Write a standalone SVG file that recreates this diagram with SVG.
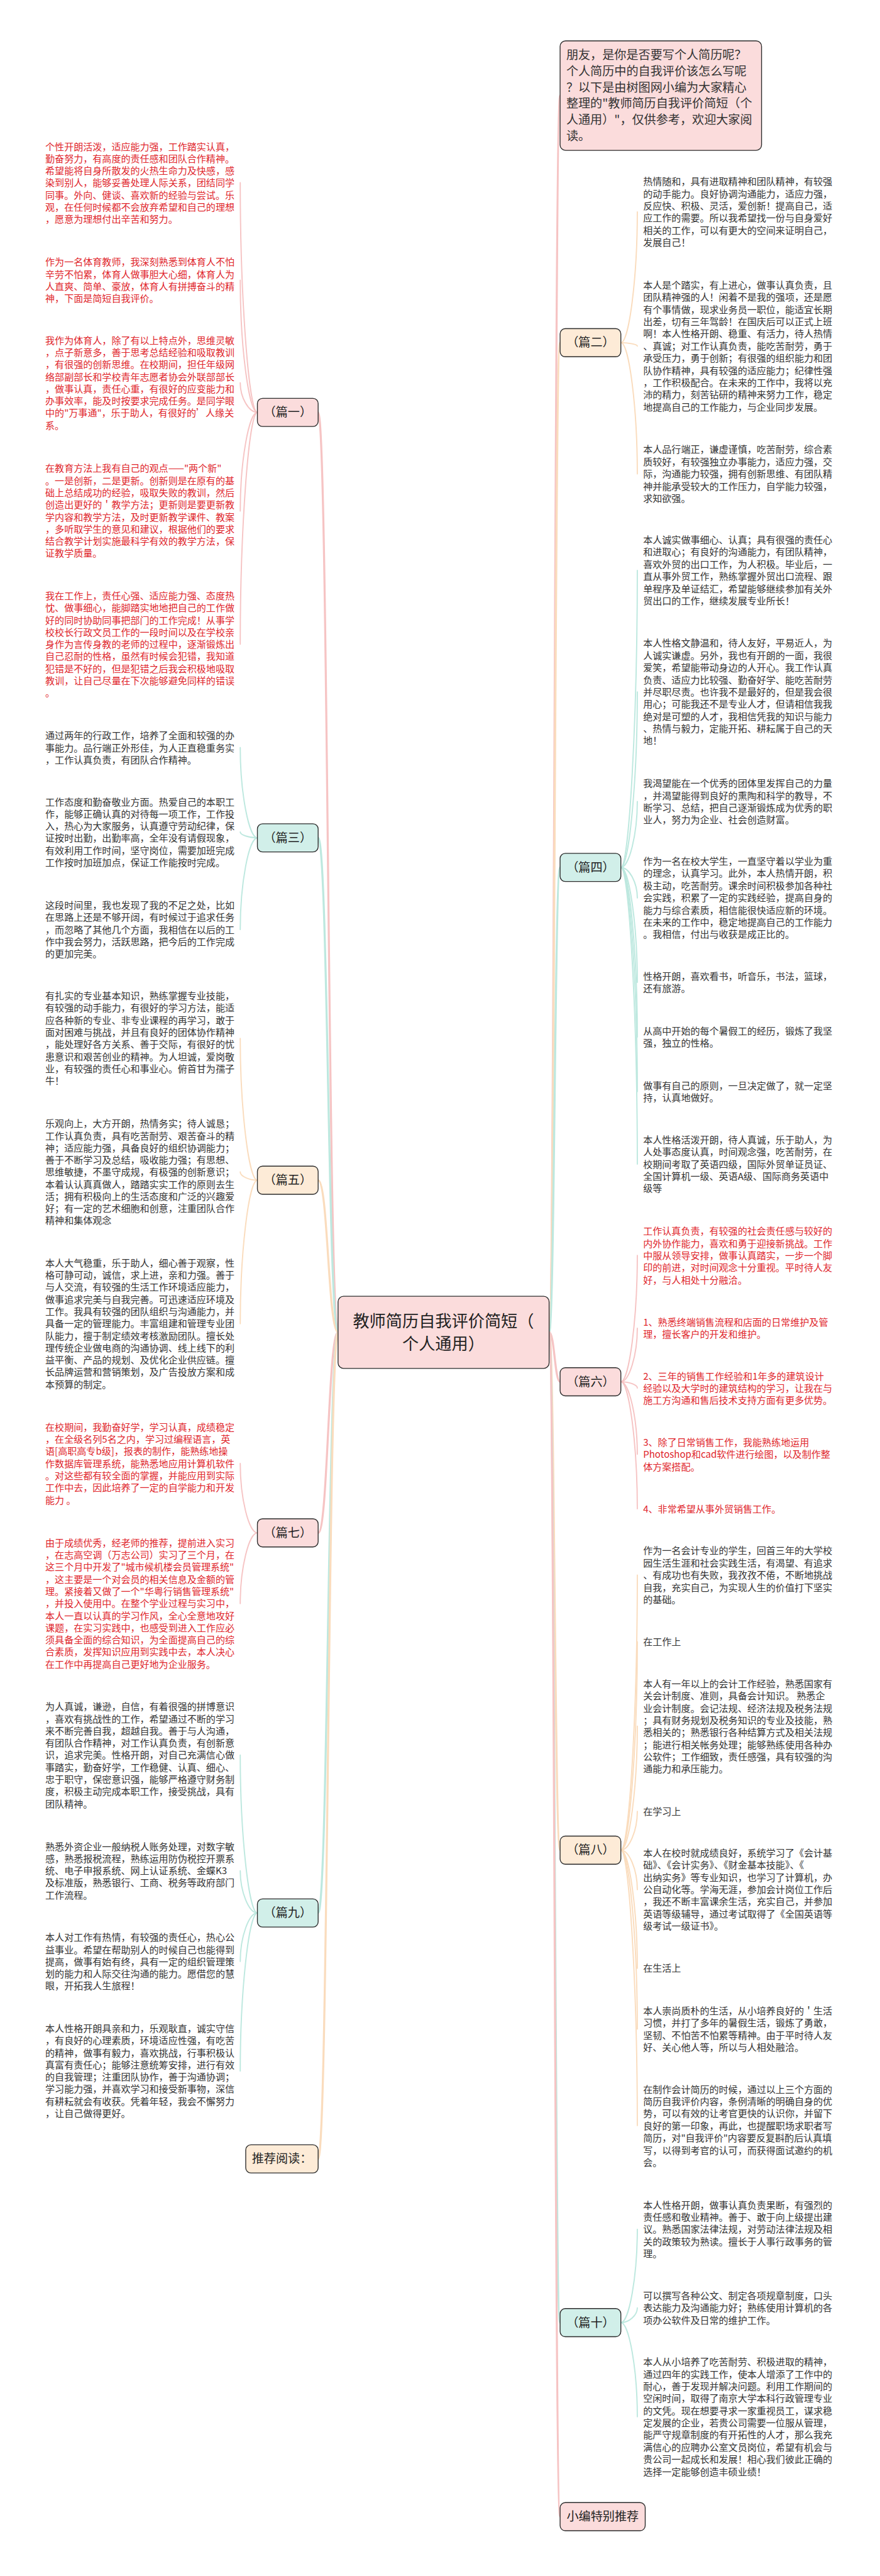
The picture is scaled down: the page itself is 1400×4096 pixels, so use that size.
<svg xmlns="http://www.w3.org/2000/svg" width="1400" height="4096" viewBox="0 0 1400 4096">
<style>
.t{font-family:"Noto Sans CJK SC","Noto Sans",sans-serif;font-size:27.6px}
.r{fill:#e0252b}
.g{fill:#333}
.lb{font-family:"Noto Sans CJK SC","Noto Sans",sans-serif;font-size:35px;fill:#222;text-anchor:middle}
.nb{stroke:#2b2b2b;stroke-width:2.5}
.pk{fill:#fbdcdc}.pc{fill:#fdebd7}.tl{fill:#d1efe9}
.lpk{stroke:#f6c4c4}.lpc{stroke:#fadcbd}.ltl{stroke:#bde8df}
.c1{fill:none;stroke-width:6;stroke-linecap:round}
.c2{fill:none;stroke-width:3.5;stroke-linecap:round}
</style>
<rect width="1400" height="4096" fill="#fff"/>
<g transform="scale(0.546)">
<g id="connectors">
<path class="c1 lpk" d="M1600,3880 C1616,3880 1616,278 1632,278"/>
<path class="c1 lpc" d="M1600,3880 C1616,3880 1616,998 1632,998"/>
<path class="c1 ltl" d="M1600,3880 C1616,3880 1616,2526 1632,2526"/>
<path class="c1 lpk" d="M1600,3880 C1616,3880 1616,4024 1632,4024"/>
<path class="c1 lpc" d="M1600,3880 C1616,3880 1616,5388 1632,5388"/>
<path class="c1 ltl" d="M1600,3880 C1616,3880 1616,6764 1632,6764"/>
<path class="c1 lpk" d="M1600,3880 C1616,3880 1616,7329 1632,7329"/>
<path class="c1 lpk" d="M985,3880 C956,3880 956,1201 927,1201"/>
<path class="c1 ltl" d="M985,3880 C956,3880 956,2440 927,2440"/>
<path class="c1 lpc" d="M985,3880 C956,3880 956,3437 927,3437"/>
<path class="c1 lpk" d="M985,3880 C956,3880 956,4464 927,4464"/>
<path class="c1 ltl" d="M985,3880 C956,3880 956,5571 927,5571"/>
<path class="c1 lpc" d="M985,3880 C956,3880 956,6287 927,6287"/>
<path class="c2 lpk" d="M750,1201 C725,1201 700,866 700,532"/>
<path class="c2 lpk" d="M750,1201 C725,1201 700,1008 700,816"/>
<path class="c2 lpk" d="M750,1201 C725,1201 700,1158 700,1115"/>
<path class="c2 lpk" d="M750,1201 C725,1201 700,1344 700,1488"/>
<path class="c2 lpk" d="M750,1201 C725,1201 700,1538 700,1876"/>
<path class="c2 ltl" d="M750,2440 C725,2440 700,2308 700,2177"/>
<path class="c2 ltl" d="M750,2440 C725,2440 700,2431 700,2423"/>
<path class="c2 ltl" d="M750,2440 C725,2440 700,2573 700,2707"/>
<path class="c2 lpc" d="M750,3437 C725,3437 700,3230 700,3024"/>
<path class="c2 lpc" d="M750,3437 C725,3437 700,3425 700,3413"/>
<path class="c2 lpc" d="M750,3437 C725,3437 700,3646 700,3855"/>
<path class="c2 lpk" d="M750,4464 C725,4464 700,4363 700,4262"/>
<path class="c2 lpk" d="M750,4464 C725,4464 700,4567 700,4670"/>
<path class="c2 ltl" d="M750,5571 C725,5571 700,5341 700,5111"/>
<path class="c2 ltl" d="M750,5571 C725,5571 700,5509 700,5448"/>
<path class="c2 ltl" d="M750,5571 C725,5571 700,5641 700,5712"/>
<path class="c2 ltl" d="M750,5571 C725,5571 700,5801 700,6031"/>
<path class="c2 lpc" d="M1809,998 C1833,998 1857,807 1857,617"/>
<path class="c2 lpc" d="M1809,998 C1833,998 1857,1003 1857,1008"/>
<path class="c2 lpc" d="M1809,998 C1833,998 1857,1189 1857,1380"/>
<path class="c2 ltl" d="M1809,2526 C1833,2526 1857,2093 1857,1661"/>
<path class="c2 ltl" d="M1809,2526 C1833,2526 1857,2270 1857,2015"/>
<path class="c2 ltl" d="M1809,2526 C1833,2526 1857,2430 1857,2334"/>
<path class="c2 ltl" d="M1809,2526 C1833,2526 1857,2570 1857,2615"/>
<path class="c2 ltl" d="M1809,2526 C1833,2526 1857,2693 1857,2861"/>
<path class="c2 ltl" d="M1809,2526 C1833,2526 1857,2773 1857,3020"/>
<path class="c2 ltl" d="M1809,2526 C1833,2526 1857,2852 1857,3179"/>
<path class="c2 ltl" d="M1809,2526 C1833,2526 1857,2958 1857,3390"/>
<path class="c2 lpk" d="M1809,4024 C1833,4024 1857,3840 1857,3656"/>
<path class="c2 lpk" d="M1809,4024 C1833,4024 1857,3946 1857,3868"/>
<path class="c2 lpk" d="M1809,4024 C1833,4024 1857,4033 1857,4042"/>
<path class="c2 lpk" d="M1809,4024 C1833,4024 1857,4129 1857,4235"/>
<path class="c2 lpk" d="M1809,4024 C1833,4024 1857,4209 1857,4394"/>
<path class="c2 lpc" d="M1809,5388 C1833,5388 1857,4987 1857,4587"/>
<path class="c2 lpc" d="M1809,5388 C1833,5388 1857,5084 1857,4781"/>
<path class="c2 lpc" d="M1809,5388 C1833,5388 1857,5207 1857,5027"/>
<path class="c2 lpc" d="M1809,5388 C1833,5388 1857,5331 1857,5275"/>
<path class="c2 lpc" d="M1809,5388 C1833,5388 1857,5445 1857,5503"/>
<path class="c2 lpc" d="M1809,5388 C1833,5388 1857,5560 1857,5732"/>
<path class="c2 lpc" d="M1809,5388 C1833,5388 1857,5648 1857,5909"/>
<path class="c2 lpc" d="M1809,5388 C1833,5388 1857,5789 1857,6190"/>
<path class="c2 ltl" d="M1809,6764 C1833,6764 1857,6628 1857,6492"/>
<path class="c2 ltl" d="M1809,6764 C1833,6764 1857,6742 1857,6721"/>
<path class="c2 ltl" d="M1809,6764 C1833,6764 1857,6901 1857,7038"/>
</g>

<g id="center">
<rect x="985" y="3775" width="615" height="210" rx="16" class="pk nb"/>
<text class="lb" style="font-size:48px" x="1292" y="3865">教师简历自我评价简短（</text>
<text class="lb" style="font-size:48px" x="1292" y="3930">个人通用）</text>
</g>

<g id="intro">
<rect x="1632" y="119" width="587" height="319" rx="16" class="pk nb"/>
<text class="t g" style="font-size:35px" x="1650" y="172"><tspan x="1650">朋友，是你是否要写个人简历呢？</tspan><tspan x="1650" dy="47.3">个人简历中的自我评价该怎么写呢</tspan><tspan x="1650" dy="47.3">？以下是由树图网小编为大家精心</tspan><tspan x="1650" dy="47.3">整理的"教师简历自我评价简短（个</tspan><tspan x="1650" dy="47.3">人通用）"，仅供参考，欢迎大家阅</tspan><tspan x="1650" dy="47.3">读。</tspan></text>
</g>

<g id="p1"><rect x="750" y="1160" width="177" height="82" rx="15" class="pk nb"/><text class="lb" x="838.5" y="1213">（篇一）</text></g>
<g id="p3"><rect x="750" y="2399" width="177" height="82" rx="15" class="tl nb"/><text class="lb" x="838.5" y="2452">（篇三）</text></g>
<g id="p5"><rect x="750" y="3396" width="177" height="82" rx="15" class="pc nb"/><text class="lb" x="838.5" y="3449">（篇五）</text></g>
<g id="p7"><rect x="750" y="4423" width="177" height="82" rx="15" class="pk nb"/><text class="lb" x="838.5" y="4476">（篇七）</text></g>
<g id="p9"><rect x="750" y="5530" width="177" height="82" rx="15" class="tl nb"/><text class="lb" x="838.5" y="5583">（篇九）</text></g>
<g id="rec"><rect x="716" y="6246" width="211" height="82" rx="15" class="pc nb"/><text class="lb" x="821.5" y="6299">推荐阅读：</text></g>
<g id="p2"><rect x="1632" y="957" width="177" height="82" rx="15" class="pc nb"/><text class="lb" x="1720.5" y="1010">（篇二）</text></g>
<g id="p4"><rect x="1632" y="2485" width="177" height="82" rx="15" class="tl nb"/><text class="lb" x="1720.5" y="2538">（篇四）</text></g>
<g id="p6"><rect x="1632" y="3983" width="177" height="82" rx="15" class="pk nb"/><text class="lb" x="1720.5" y="4036">（篇六）</text></g>
<g id="p8"><rect x="1632" y="5347" width="177" height="82" rx="15" class="pc nb"/><text class="lb" x="1720.5" y="5400">（篇八）</text></g>
<g id="p10"><rect x="1632" y="6723" width="177" height="82" rx="15" class="tl nb"/><text class="lb" x="1720.5" y="6776">（篇十）</text></g>
<g id="editor"><rect x="1632" y="7288" width="248" height="82" rx="15" class="pk nb"/><text class="lb" x="1756" y="7341">小编特别推荐</text></g>

<g id="p1-1"><text class="t r" x="132" y="437"><tspan x="132">个性开朗活泼，适应能力强，工作踏实认真，</tspan><tspan x="132" dy="35.3">勤奋努力，有高度的责任感和团队合作精神。</tspan><tspan x="132" dy="35.3">希望能将自身所散发的火热生命力及快感，感</tspan><tspan x="132" dy="35.3">染到别人，能够妥善处理人际关系，团结同学</tspan><tspan x="132" dy="35.3">同事。外向、健谈、喜欢新的经验与尝试。乐</tspan><tspan x="132" dy="35.3">观，在任何时候都不会放弃希望和自己的理想</tspan><tspan x="132" dy="35.3">，愿意为理想付出辛苦和努力。</tspan></text></g>
<g id="p1-2"><text class="t r" x="132" y="773.5"><tspan x="132">作为一名体育教师，我深刻熟悉到体育人不怕</tspan><tspan x="132" dy="35.3">辛劳不怕累，体育人做事胆大心细，体育人为</tspan><tspan x="132" dy="35.3">人直爽、简单、豪放，体育人有拼搏奋斗的精</tspan><tspan x="132" dy="35.3">神，下面是简短自我评价。</tspan></text></g>
<g id="p1-3"><text class="t r" x="132" y="1001.5"><tspan x="132">我作为体育人，除了有以上特点外，思维灵敏</tspan><tspan x="132" dy="35.3">，点子新意多，善于思考总结经验和吸取教训</tspan><tspan x="132" dy="35.3">，有很强的创新思维。在校期间，担任年级网</tspan><tspan x="132" dy="35.3">络部副部长和学校青年志愿者协会外联部部长</tspan><tspan x="132" dy="35.3">，做事认真，责任心重，有很好的应变能力和</tspan><tspan x="132" dy="35.3">办事效率，能及时按要求完成任务。是同学眼</tspan><tspan x="132" dy="35.3">中的"万事通"，乐于助人，有很好的’人缘关</tspan><tspan x="132" dy="35.3">系。</tspan></text></g>
<g id="p1-4"><text class="t r" x="132" y="1374.5"><tspan x="132">在教育方法上我有自己的观点——"两个新"</tspan><tspan x="132" dy="35.3">。一是创新，二是更新。创新则是在原有的基</tspan><tspan x="132" dy="35.3">础上总结成功的经验，吸取失败的教训，然后</tspan><tspan x="132" dy="35.3">创造出更好的＇教学方法；更新则是要更新教</tspan><tspan x="132" dy="35.3">学内容和教学方法，及时更新教学课件、教案</tspan><tspan x="132" dy="35.3">，多听取学生的意见和建议，根据他们的要求</tspan><tspan x="132" dy="35.3">结合教学计划实施最科学有效的教学方法，保</tspan><tspan x="132" dy="35.3">证教学质量。</tspan></text></g>
<g id="p1-5"><text class="t r" x="132" y="1745.5"><tspan x="132">我在工作上，责任心强、适应能力强、态度热</tspan><tspan x="132" dy="35.3">忱、做事细心，能脚踏实地地把自己的工作做</tspan><tspan x="132" dy="35.3">好的同时协助同事把部门的工作完成！从事学</tspan><tspan x="132" dy="35.3">校校长行政文员工作的一段时间以及在学校亲</tspan><tspan x="132" dy="35.3">身作为言传身教的老师的过程中，逐渐锻炼出</tspan><tspan x="132" dy="35.3">自己忍耐的性格，虽然有时候会犯错，我知道</tspan><tspan x="132" dy="35.3">犯错是不好的，但是犯错之后我会积极地吸取</tspan><tspan x="132" dy="35.3">教训，让自己尽量在下次能够避免同样的错误</tspan><tspan x="132" dy="35.3">。</tspan></text></g>

<g id="p3-1"><text class="t g" x="132" y="2152.5"><tspan x="132">通过两年的行政工作，培养了全面和较强的办</tspan><tspan x="132" dy="35.3">事能力。品行端正外形佳，为人正直稳重务实</tspan><tspan x="132" dy="35.3">，工作认真负责，有团队合作精神。</tspan></text></g>
<g id="p3-2"><text class="t g" x="132" y="2345.5"><tspan x="132">工作态度和勤奋敬业方面。热爱自己的本职工</tspan><tspan x="132" dy="35.3">作，能够正确认真的对待每一项工作，工作投</tspan><tspan x="132" dy="35.3">入，热心为大家服务，认真遵守劳动纪律，保</tspan><tspan x="132" dy="35.3">证按时出勤，出勤率高，全年没有请假现象，</tspan><tspan x="132" dy="35.3">有效利用工作时间，坚守岗位，需要加班完成</tspan><tspan x="132" dy="35.3">工作按时加班加点，保证工作能按时完成。</tspan></text></g>
<g id="p3-3"><text class="t g" x="132" y="2646.5"><tspan x="132">这段时间里，我也发现了我的不足之处，比如</tspan><tspan x="132" dy="35.3">在思路上还是不够开阔，有时候过于追求任务</tspan><tspan x="132" dy="35.3">，而忽略了其他几个方面，我相信在以后的工</tspan><tspan x="132" dy="35.3">作中我会努力，活跃思路，把今后的工作完成</tspan><tspan x="132" dy="35.3">的更加完美。</tspan></text></g>

<g id="p5-1"><text class="t g" x="132" y="2910.5"><tspan x="132">有扎实的专业基本知识，熟练掌握专业技能，</tspan><tspan x="132" dy="35.3">有较强的动手能力，有很好的学习方法，能适</tspan><tspan x="132" dy="35.3">应各种新的专业、非专业课程的再学习，敢于</tspan><tspan x="132" dy="35.3">面对困难与挑战，并且有良好的团体协作精神</tspan><tspan x="132" dy="35.3">，能处理好各方关系、善于交际，有很好的忧</tspan><tspan x="132" dy="35.3">患意识和艰苦创业的精神。为人坦诚，爱岗敬</tspan><tspan x="132" dy="35.3">业，有较强的责任心和事业心。俯首甘为孺子</tspan><tspan x="132" dy="35.3">牛！</tspan></text></g>
<g id="p5-2"><text class="t g" x="132" y="3282.5"><tspan x="132">乐观向上，大方开朗，热情务实；待人诚恳；</tspan><tspan x="132" dy="35.3">工作认真负责，具有吃苦耐劳、艰苦奋斗的精</tspan><tspan x="132" dy="35.3">神；适应能力强，具备良好的组织协调能力；</tspan><tspan x="132" dy="35.3">善于不断学习及总结，吸收能力强；有思想、</tspan><tspan x="132" dy="35.3">思维敏捷，不墨守成规，有极强的创新意识；</tspan><tspan x="132" dy="35.3">本着认认真真做人，踏踏实实工作的原则去生</tspan><tspan x="132" dy="35.3">活；拥有积极向上的生活态度和广泛的兴趣爱</tspan><tspan x="132" dy="35.3">好；有一定的艺术细胞和创意，注重团队合作</tspan><tspan x="132" dy="35.3">精神和集体观念</tspan></text></g>
<g id="p5-3"><text class="t g" x="132" y="3688.5"><tspan x="132">本人大气稳重，乐于助人，细心善于观察，性</tspan><tspan x="132" dy="35.3">格可静可动，诚信，求上进，亲和力强。善于</tspan><tspan x="132" dy="35.3">与人交流，有较强的生活工作环境适应能力，</tspan><tspan x="132" dy="35.3">做事追求完美与自我完善。可迅速适应环境及</tspan><tspan x="132" dy="35.3">工作。我具有较强的团队组织与沟通能力，并</tspan><tspan x="132" dy="35.3">具备一定的管理能力。丰富组建和管理专业团</tspan><tspan x="132" dy="35.3">队能力，擅于制定绩效考核激励团队。擅长处</tspan><tspan x="132" dy="35.3">理传统企业做电商的沟通协调、线上线下的利</tspan><tspan x="132" dy="35.3">益平衡、产品的规划、及优化企业供应链。擅</tspan><tspan x="132" dy="35.3">长品牌运营和营销策划，及广告投放方案和成</tspan><tspan x="132" dy="35.3">本预算的制定。</tspan></text></g>

<g id="p7-1"><text class="t r" x="132" y="4166.5"><tspan x="132">在校期间，我勤奋好学，学习认真，成绩稳定</tspan><tspan x="132" dy="35.3">，在全级名列5名之内，学习过编程语言，英</tspan><tspan x="132" dy="35.3">语[高职高专b级]，报表的制作，能熟练地操</tspan><tspan x="132" dy="35.3">作数据库管理系统，能熟悉地应用计算机软件</tspan><tspan x="132" dy="35.3">。对这些都有较全面的掌握，并能应用到实际</tspan><tspan x="132" dy="35.3">工作中去，因此培养了一定的自学能力和开发</tspan><tspan x="132" dy="35.3">能力 。</tspan></text></g>
<g id="p7-2"><text class="t r" x="132" y="4503.5"><tspan x="132">由于成绩优秀，经老师的推荐，提前进入实习</tspan><tspan x="132" dy="35.3">，在志高空调（万志公司）实习了三个月，在</tspan><tspan x="132" dy="35.3">这三个月中开发了"城市候机楼会员管理系统"</tspan><tspan x="132" dy="35.3">，这主要是一个对会员的相关信息及金额的管</tspan><tspan x="132" dy="35.3">理。紧接着又做了一个"华粤行销售管理系统"</tspan><tspan x="132" dy="35.3">，并投入使用中。在整个学业过程与实习中，</tspan><tspan x="132" dy="35.3">本人一直以认真的学习作风，全心全意地攻好</tspan><tspan x="132" dy="35.3">课题，在实习实践中，也感受到进入工作应必</tspan><tspan x="132" dy="35.3">须具备全面的综合知识，为全面提高自己的综</tspan><tspan x="132" dy="35.3">合素质，发挥知识应用到实践中去，本人决心</tspan><tspan x="132" dy="35.3">在工作中再提高自己更好地为企业服务。</tspan></text></g>

<g id="p9-1"><text class="t g" x="132" y="4980.5"><tspan x="132">为人真诚，谦逊，自信，有着很强的拼博意识</tspan><tspan x="132" dy="35.3">，喜欢有挑战性的工作，希望通过不断的学习</tspan><tspan x="132" dy="35.3">来不断完善自我，超越自我。善于与人沟通，</tspan><tspan x="132" dy="35.3">有团队合作精神，对工作认真负责，有创新意</tspan><tspan x="132" dy="35.3">识，追求完美。性格开朗，对自己充满信心做</tspan><tspan x="132" dy="35.3">事踏实，勤奋好学，工作稳健、认真、细心、</tspan><tspan x="132" dy="35.3">忠于职守，保密意识强，能够严格遵守财务制</tspan><tspan x="132" dy="35.3">度，积极主动完成本职工作，接受挑战，具有</tspan><tspan x="132" dy="35.3">团队精神。</tspan></text></g>
<g id="p9-2"><text class="t g" x="132" y="5387.5"><tspan x="132">熟悉外资企业一般纳税人账务处理，对数字敏</tspan><tspan x="132" dy="35.3">感，熟悉报税流程，熟练运用防伪税控开票系</tspan><tspan x="132" dy="35.3">统、电子申报系统、网上认证系统、金蝶K3</tspan><tspan x="132" dy="35.3">及标准版，熟悉银行、工商、税务等政府部门</tspan><tspan x="132" dy="35.3">工作流程。</tspan></text></g>
<g id="p9-3"><text class="t g" x="132" y="5652.5"><tspan x="132">本人对工作有热情，有较强的责任心，热心公</tspan><tspan x="132" dy="35.3">益事业。希望在帮助别人的时候自己也能得到</tspan><tspan x="132" dy="35.3">提高，做事有始有终，具有一定的组织管理策</tspan><tspan x="132" dy="35.3">划的能力和人际交往沟通的能力。愿借您的慧</tspan><tspan x="132" dy="35.3">眼，开拓我人生旅程！</tspan></text></g>
<g id="p9-4"><text class="t g" x="132" y="5917.5"><tspan x="132">本人性格开朗具亲和力，乐观耿直，诚实守信</tspan><tspan x="132" dy="35.3">，有良好的心理素质，环境适应性强，有吃苦</tspan><tspan x="132" dy="35.3">的精神，做事有毅力，喜欢挑战，行事积极认</tspan><tspan x="132" dy="35.3">真富有责任心；能够注意统筹安排，进行有效</tspan><tspan x="132" dy="35.3">的自我管理；注重团队协作，善于沟通协调；</tspan><tspan x="132" dy="35.3">学习能力强，并喜欢学习和接受新事物，深信</tspan><tspan x="132" dy="35.3">有耕耘就会有收获。凭着年轻，我会不懈努力</tspan><tspan x="132" dy="35.3">，让自己做得更好。</tspan></text></g>

<g id="p2-1"><text class="t g" x="1874" y="539"><tspan x="1874">热情随和，具有进取精神和团队精神，有较强</tspan><tspan x="1874" dy="35.5">的动手能力。良好协调沟通能力，适应力强，</tspan><tspan x="1874" dy="35.5">反应快、积极、灵活，爱创新！提高自己，适</tspan><tspan x="1874" dy="35.5">应工作的需要。所以我希望找一份与自身爱好</tspan><tspan x="1874" dy="35.5">相关的工作，可以有更大的空间来证明自己，</tspan><tspan x="1874" dy="35.5">发展自己！</tspan></text></g>
<g id="p2-2"><text class="t g" x="1874" y="840.5"><tspan x="1874">本人是个踏实，有上进心，做事认真负责，且</tspan><tspan x="1874" dy="35.5">团队精神强的人！闲着不是我的强项，还是愿</tspan><tspan x="1874" dy="35.5">有个事情做，现求业务员一职位，能适宜长期</tspan><tspan x="1874" dy="35.5">出差，切有三年驾龄！在国庆后可以正式上班</tspan><tspan x="1874" dy="35.5">啊！本人性格开朗、稳重、有活力，待人热情</tspan><tspan x="1874" dy="35.5">、真诚；对工作认真负责，能吃苦耐劳，勇于</tspan><tspan x="1874" dy="35.5">承受压力，勇于创新；有很强的组织能力和团</tspan><tspan x="1874" dy="35.5">队协作精神，具有较强的适应能力；纪律性强</tspan><tspan x="1874" dy="35.5">，工作积极配合。在未来的工作中，我将以充</tspan><tspan x="1874" dy="35.5">沛的精力，刻苦钻研的精神来努力工作，稳定</tspan><tspan x="1874" dy="35.5">地提高自己的工作能力，与企业同步发展。</tspan></text></g>
<g id="p2-3"><text class="t g" x="1874" y="1319.5"><tspan x="1874">本人品行端正，谦虚谨慎，吃苦耐劳，综合素</tspan><tspan x="1874" dy="35.5">质较好，有较强独立办事能力，适应力强，交</tspan><tspan x="1874" dy="35.5">际，沟通能力较强，拥有创新思维、有团队精</tspan><tspan x="1874" dy="35.5">神并能承受较大的工作压力，自学能力较强，</tspan><tspan x="1874" dy="35.5">求知欲强。</tspan></text></g>

<g id="p4-1"><text class="t g" x="1874" y="1582.5"><tspan x="1874">本人诚实做事细心、认真；具有很强的责任心</tspan><tspan x="1874" dy="35.5">和进取心；有良好的沟通能力，有团队精神，</tspan><tspan x="1874" dy="35.5">喜欢外贸的出口工作，为人积极。毕业后，一</tspan><tspan x="1874" dy="35.5">直从事外贸工作，熟练掌握外贸出口流程、跟</tspan><tspan x="1874" dy="35.5">单程序及单证结汇，希望能够继续参加有关外</tspan><tspan x="1874" dy="35.5">贸出口的工作，继续发展专业所长！</tspan></text></g>
<g id="p4-2"><text class="t g" x="1874" y="1883.5"><tspan x="1874">本人性格文静温和，待人友好，平易近人，为</tspan><tspan x="1874" dy="35.5">人诚实谦虚。另外，我也有开朗的一面，我很</tspan><tspan x="1874" dy="35.5">爱笑，希望能带动身边的人开心。我工作认真</tspan><tspan x="1874" dy="35.5">负责、适应力比较强、勤奋好学、能吃苦耐劳</tspan><tspan x="1874" dy="35.5">并尽职尽责。也许我不是最好的，但是我会很</tspan><tspan x="1874" dy="35.5">用心；可能我还不是专业人才，但请相信我我</tspan><tspan x="1874" dy="35.5">绝对是可塑的人才，我相信凭我的知识与能力</tspan><tspan x="1874" dy="35.5">、热情与毅力，定能开拓、耕耘属于自己的天</tspan><tspan x="1874" dy="35.5">地！</tspan></text></g>
<g id="p4-3"><text class="t g" x="1874" y="2291.5"><tspan x="1874">我渴望能在一个优秀的团体里发挥自己的力量</tspan><tspan x="1874" dy="35.5">，并渴望能得到良好的熏陶和科学的教导，不</tspan><tspan x="1874" dy="35.5">断学习、总结，把自己逐渐锻炼成为优秀的职</tspan><tspan x="1874" dy="35.5">业人，努力为企业、社会创造财富。</tspan></text></g>
<g id="p4-4"><text class="t g" x="1874" y="2518.5"><tspan x="1874">作为一名在校大学生，一直坚守着以学业为重</tspan><tspan x="1874" dy="35.5">的理念，认真学习。此外，本人热情开朗，积</tspan><tspan x="1874" dy="35.5">极主动，吃苦耐劳。课余时间积极参加各种社</tspan><tspan x="1874" dy="35.5">会实践，积累了一定的实践经验，提高自身的</tspan><tspan x="1874" dy="35.5">能力与综合素质，相信能很快适应新的环境。</tspan><tspan x="1874" dy="35.5">在未来的工作中，稳定地提高自己的工作能力</tspan><tspan x="1874" dy="35.5">。我相信，付出与收获是成正比的。</tspan></text></g>
<g id="p4-5"><text class="t g" x="1874" y="2853.5"><tspan x="1874">性格开朗，喜欢看书，听音乐，书法，篮球，</tspan><tspan x="1874" dy="35.5">还有旅游。</tspan></text></g>
<g id="p4-6"><text class="t g" x="1874" y="3012.5"><tspan x="1874">从高中开始的每个暑假工的经历，锻炼了我坚</tspan><tspan x="1874" dy="35.5">强，独立的性格。</tspan></text></g>
<g id="p4-7"><text class="t g" x="1874" y="3171.5"><tspan x="1874">做事有自己的原则，一旦决定做了，就一定坚</tspan><tspan x="1874" dy="35.5">持，认真地做好。</tspan></text></g>
<g id="p4-8"><text class="t g" x="1874" y="3329.5"><tspan x="1874">本人性格活泼开朗，待人真诚，乐于助人，为</tspan><tspan x="1874" dy="35.5">人处事态度认真，时间观念强，吃苦耐劳，在</tspan><tspan x="1874" dy="35.5">校期间考取了英语四级，国际外贸单证员证、</tspan><tspan x="1874" dy="35.5">全国计算机一级、英语A级、国际商务英语中</tspan><tspan x="1874" dy="35.5">级等</tspan></text></g>

<g id="p6-1"><text class="t r" x="1874" y="3595.5"><tspan x="1874">工作认真负责，有较强的社会责任感与较好的</tspan><tspan x="1874" dy="35.5">内外协作能力，喜欢和勇于迎接新挑战。工作</tspan><tspan x="1874" dy="35.5">中服从领导安排，做事认真踏实，一步一个脚</tspan><tspan x="1874" dy="35.5">印的前进，对时间观念十分重视。平时待人友</tspan><tspan x="1874" dy="35.5">好，与人相处十分融洽。</tspan></text></g>
<g id="p6-2"><text class="t r" x="1874" y="3860.5"><tspan x="1874">1、熟悉终端销售流程和店面的日常维护及管</tspan><tspan x="1874" dy="35.5">理，擅长客户的开发和维护。</tspan></text></g>
<g id="p6-3"><text class="t r" x="1874" y="4017.5"><tspan x="1874">2、三年的销售工作经验和1年多的建筑设计</tspan><tspan x="1874" dy="35.5">经验以及大学时的建筑结构的学习，让我在与</tspan><tspan x="1874" dy="35.5">施工方沟通和售后技术支持方面有更多优势。</tspan></text></g>
<g id="p6-4"><text class="t r" x="1874" y="4210.5"><tspan x="1874">3、除了日常销售工作，我能熟练地运用</tspan><tspan x="1874" dy="35.5">Photoshop和cad软件进行绘图，以及制作整</tspan><tspan x="1874" dy="35.5">体方案搭配。</tspan></text></g>
<g id="p6-5"><text class="t r" x="1874" y="4404.5">4、非常希望从事外贸销售工作。</text></g>

<g id="p8-1"><text class="t g" x="1874" y="4526.5"><tspan x="1874">作为一名会计专业的学生，回首三年的大学校</tspan><tspan x="1874" dy="35.5">园生活生涯和社会实践生活，有渴望、有追求</tspan><tspan x="1874" dy="35.5">、有成功也有失败，我孜孜不倦，不断地挑战</tspan><tspan x="1874" dy="35.5">自我，充实自己，为实现人生的价值打下坚实</tspan><tspan x="1874" dy="35.5">的基础。</tspan></text></g>
<g id="p8-2"><text class="t g" x="1874" y="4791.5">在工作上</text></g>
<g id="p8-3"><text class="t g" x="1874" y="4913.5"><tspan x="1874">本人有一年以上的会计工作经验，熟悉国家有</tspan><tspan x="1874" dy="35.5">关会计制度、准则，具备会计知识。 熟悉企</tspan><tspan x="1874" dy="35.5">业会计制度。会记法规、经济法规及税务法规</tspan><tspan x="1874" dy="35.5">；具有财务规划及税务知识的专业及技能，熟</tspan><tspan x="1874" dy="35.5">悉相关的；熟悉银行各种结算方式及相关法规</tspan><tspan x="1874" dy="35.5">；能进行相关帐务处理；能够熟练使用各种办</tspan><tspan x="1874" dy="35.5">公软件；工作细致，责任感强，具有较强的沟</tspan><tspan x="1874" dy="35.5">通能力和承压能力。</tspan></text></g>
<g id="p8-4"><text class="t g" x="1874" y="5285.5">在学习上</text></g>
<g id="p8-5"><text class="t g" x="1874" y="5406.5"><tspan x="1874">本人在校时就成绩良好，系统学习了《会计基</tspan><tspan x="1874" dy="35.5">础》、《会计实务》、《财金基本技能》、《</tspan><tspan x="1874" dy="35.5">出纳实务》等专业知识，也学习了计算机，办</tspan><tspan x="1874" dy="35.5">公自动化等。学海无涯，参加会计岗位工作后</tspan><tspan x="1874" dy="35.5">，我还不断丰富课余生活，充实自己，并参加</tspan><tspan x="1874" dy="35.5">英语等级辅导，通过考试取得了《全国英语等</tspan><tspan x="1874" dy="35.5">级考试一级证书》。</tspan></text></g>
<g id="p8-6"><text class="t g" x="1874" y="5742.5">在生活上</text></g>
<g id="p8-7"><text class="t g" x="1874" y="5866.5"><tspan x="1874">本人崇尚质朴的生活，从小培养良好的＇生活</tspan><tspan x="1874" dy="35.5">习惯，并打了多年的暑假生活，锻炼了勇敢，</tspan><tspan x="1874" dy="35.5">坚韧、不怕苦不怕累等精神。由于平时待人友</tspan><tspan x="1874" dy="35.5">好、关心他人等，所以与人相处融洽。</tspan></text></g>
<g id="p8-8"><text class="t g" x="1874" y="6094.5"><tspan x="1874">在制作会计简历的时候，通过以上三个方面的</tspan><tspan x="1874" dy="35.5">简历自我评价内容，条例清晰的明确自身的优</tspan><tspan x="1874" dy="35.5">势，可以有效的让考官更快的认识你，并留下</tspan><tspan x="1874" dy="35.5">良好的第一印象，再此，也提醒职场求职者写</tspan><tspan x="1874" dy="35.5">简历，对"自我评价"内容要反复斟酌后认真填</tspan><tspan x="1874" dy="35.5">写，以得到考官的认可，而获得面试邀约的机</tspan><tspan x="1874" dy="35.5">会。</tspan></text></g>

<g id="p10-1"><text class="t g" x="1874" y="6431.5"><tspan x="1874">本人性格开朗，做事认真负责果断，有强烈的</tspan><tspan x="1874" dy="35.5">责任感和敬业精神。善于、敢于向上级提出建</tspan><tspan x="1874" dy="35.5">议。熟悉国家法律法规，对劳动法律法规及相</tspan><tspan x="1874" dy="35.5">关的政策较为熟读。擅长于人事行政事务的管</tspan><tspan x="1874" dy="35.5">理。</tspan></text></g>
<g id="p10-2"><text class="t g" x="1874" y="6695.5"><tspan x="1874">可以撰写各种公文、制定各项规章制度，口头</tspan><tspan x="1874" dy="35.5">表达能力及沟通能力好；熟练使用计算机的各</tspan><tspan x="1874" dy="35.5">项办公软件及日常的维护工作。</tspan></text></g>
<g id="p10-3"><text class="t g" x="1874" y="6888.5"><tspan x="1874">本人从小培养了吃苦耐劳、积极进取的精神，</tspan><tspan x="1874" dy="35.5">通过四年的实践工作，使本人增添了工作中的</tspan><tspan x="1874" dy="35.5">耐心，善于发现并解决问题。利用工作期间的</tspan><tspan x="1874" dy="35.5">空闲时间，取得了南京大学本科行政管理专业</tspan><tspan x="1874" dy="35.5">的文凭。现在想要寻求一家重视员工，谋求稳</tspan><tspan x="1874" dy="35.5">定发展的企业，若贵公司需要一位服从管理，</tspan><tspan x="1874" dy="35.5">能严守规章制度的有开拓性的人才，那么我充</tspan><tspan x="1874" dy="35.5">满信心的应聘办公室文员岗位，希望有机会与</tspan><tspan x="1874" dy="35.5">贵公司一起成长和发展！相心我们彼此正确的</tspan><tspan x="1874" dy="35.5">选择一定能够创造丰硕业绩！</tspan></text></g>
</g>
</svg>
